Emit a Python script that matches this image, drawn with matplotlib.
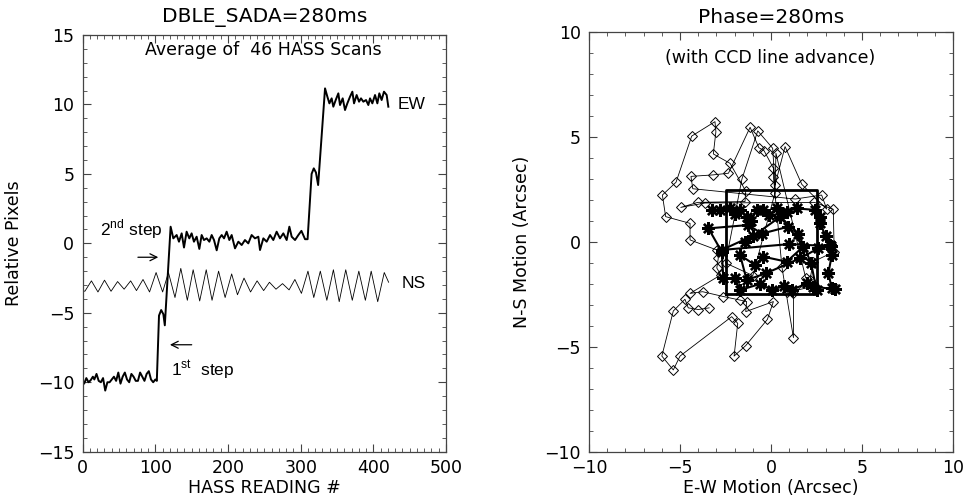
import matplotlib
matplotlib.use("Agg")
import matplotlib.pyplot as plt
from matplotlib.ticker import MultipleLocator

plt.rcParams["font.family"] = "DejaVu Sans"
plt.rcParams["mathtext.fontset"] = "custom"
plt.rcParams["mathtext.rm"] = "Liberation Sans"

# ---- left panel: averaged HASS scan ----
ew_x = [0, 2, 5, 8, 11, 14, 16, 19, 22, 25, 28, 31, 34, 37, 40, 43, 46, 49, 52, 55,
        58, 61, 64, 67, 70, 73, 76, 79, 82, 85, 88, 91, 94, 97, 100, 102,
        105, 108, 111, 113,
        121, 124.7, 129.3, 132.5, 136.2, 139.4, 143, 146.7, 149.9, 153.1, 156.8, 160.5,
        163.7, 166.9, 170.6, 174.3, 177.5, 180.7, 184.4, 188, 191.3, 194.5, 198.1, 201.8,
        205, 209.6, 214.2, 218.8, 223.3, 227.9, 232.5, 237.1, 241.7, 244, 248.6, 253.2,
        257.8, 262.3, 266.9, 271.5, 276.1, 280.7, 284.4, 287.6, 292.2, 296.8, 301, 306, 309.5,
        315, 318, 321, 324,
        333.5, 336.7, 339.5, 342.6, 344.9, 348.2, 351.8, 354.1, 357.8, 361, 364.2, 367.9,
        371.1, 373.4, 377, 380.3, 383, 386.2, 389.9, 393.1, 395.4, 398.6, 402.3, 405.5,
        408.2, 411.4, 414.6, 418.3, 420.6]
ew_y = [-9.9, -10.1, -9.7, -10.0, -9.85, -9.6, -9.8, -9.4, -9.9, -10.0, -9.7, -10.6, -10.0,
        -10.0, -9.8, -9.6, -9.9, -9.3, -10.1, -9.6, -9.3, -9.8, -10.0, -9.4, -9.6, -9.9,
        -9.9, -9.3, -9.6, -9.9, -9.4, -9.2, -9.8, -10.0, -9.8, -9.9,
        -5.2, -4.8, -5.1, -5.9,
        1.2, 0.36, 0.6, 0.12, 0.72, -0.3, 0.84, 0.36, 0.72, 0.12, 0.48, -0.4,
        0.6, 0.24, 0.36, 0.12, 0.6, 0.24, -0.5, 0.36, 0.6, 0.36, 0.84, 0.24,
        0.6, -0.36, 0.12, -0.12, 0.24, 0.0, 0.6, 0.36, 0.48, -0.48, 0.36, 0.12,
        0.6, 0.24, 0.84, 0.36, 0.72, 0.24, 1.2, 0.48, 0.24, 0.6, 0.9, 0.3, 0.3,
        5.0, 5.4, 5.1, 4.2,
        11.16, 10.56, 10.08, 10.44, 9.84, 10.32, 10.8, 9.96, 10.44, 9.6, 10.08, 10.56,
        10.92, 10.08, 10.68, 10.2, 10.44, 10.2, 10.32, 9.96, 10.44, 10.08, 10.68, 10.08,
        10.8, 10.32, 10.92, 10.68, 9.84]

ns_x = [0, 3, 12, 21, 30, 39, 48, 57, 66, 74, 83, 92, 101, 110, 118, 127, 135, 144, 152,
        161, 170, 178, 187, 196, 205, 213, 222, 231, 240, 249, 257, 266, 275, 284, 292,
        301, 310, 318, 327, 336, 345, 353, 362, 371, 380, 389, 397, 406, 415, 421]
ns_y = [-3.4, -3.45, -2.7, -3.5, -2.65, -3.45, -2.75, -3.3, -2.7, -3.4, -2.6, -3.5, -2.1,
        -3.5, -2.1, -3.9, -1.8, -4.1, -1.9, -4.15, -1.9, -4.1, -2.0, -3.9, -2.2, -3.7,
        -2.5, -3.5, -2.7, -3.4, -2.8, -3.3, -2.9, -3.35, -2.6, -3.6, -2.0, -3.9, -2.0,
        -4.1, -1.9, -4.2, -1.9, -4.1, -2.0, -4.1, -2.0, -4.2, -2.1, -2.8]

# ---- right panel: pointing motion ----
dia_x = [-3.40, -4.00, -4.55, -4.73, -5.37, -6.00, -5.37, -5.00, -2.16, -1.83, -2.03, -1.39,
         -0.20, 0.13, -1.39, -1.34, -1.70, -2.62, -3.76, -4.45, -2.76, -2.98, -2.90, -2.98,
         -4.45, -4.45, -5.79, -5.97, -5.22, -4.36, -3.08, -3.03, -3.17, -2.25, -1.39, -1.43,
         -4.03, -4.96, -3.63, 2.38, 3.42, 3.47, 2.32, 2.14, 1.23, 1.23, 0.60, 0.13, 0.13,
         -0.38, -0.67, -1.15, -2.34, -3.19, -4.40, -4.30, 1.33, 2.78, 3.06, 1.69, 0.77, 0.22,
         0.09, -0.73, -1.60, -2.50, -1.00, 0.22, 0.27, 1.90, 2.40, 0.90]
dia_y = [-3.14, -3.22, -3.14, -2.73, -3.29, -5.44, -6.10, -5.44, -3.56, -3.88, -5.44, -4.94,
         -3.69, -2.84, -3.32, -2.84, -2.77, -2.60, -2.37, -2.45, -1.57, -1.24, -0.78, -0.38,
         0.10, 0.89, 1.21, 2.24, 2.85, 5.05, 5.74, 5.26, 4.20, 3.75, 2.43, 1.93,
         1.89, 1.65, 1.86, 1.89, 1.56, -0.46, -0.94, -1.80, -2.45, -4.56, -1.20, 3.12, 3.52,
         4.35, 4.50, 5.47, 3.28, 3.20, 3.13, 2.54, 2.05, 2.24, 1.57, 2.75, 4.55, 2.72,
         4.47, 5.30, 3.00, -1.00, -1.60, 2.35, 4.23, -1.70, -2.10, -2.40]

ast_x = [-3.26, -2.80, -2.25, -2.00, -1.70, -1.34, -1.10, -0.79, -0.42, -0.10, 0.31, 0.60,
         0.86, 1.41, 2.42, 2.69, 2.69, 3.00, 3.24, 3.34, 3.15, 3.34, 3.50, 2.32, 1.96, 1.14,
         0.70, 0.04, -0.60, -1.70, -1.98, -2.62, -2.71, -3.44, -1.25, -0.50, 0.95, 1.77,
         0.86, -0.42, -0.88, -1.70, -1.34, -0.30, 1.59, 2.60, 3.30, 1.00, -2.71, -1.00,
         -1.45, 0.50, 1.50, 2.20, 2.50]
ast_y = [1.53, 1.53, 1.60, 1.35, 1.53, 1.21, 1.00, 1.53, 1.53, 1.30, 1.60, 1.40,
         1.45, 1.60, 1.53, 1.21, 0.89, 0.30, -0.14, -0.62, -1.49, -2.21, -2.25, -2.13, -1.97,
         -2.29, -2.10, -2.29, -2.00, -2.29, -1.73, -1.73, -0.46, 0.65, 0.81, 0.40, 0.73, -0.22,
         -0.94, -0.70, -1.10, -0.62, -1.81, -1.50, -0.78, -0.30, -0.20, -0.10, -0.38, 0.30,
         0.00, 1.20, 0.40, -1.00, -2.30]

box_x = [-2.5, 2.5, 2.5, -2.5, -2.5]
box_y = [-2.5, -2.5, 2.5, 2.5, -2.5]

fig = plt.figure(figsize=(9.65, 5.01), dpi=100)
ax1 = fig.add_axes([0.0857, 0.0984, 0.3765, 0.8317])
ax2 = fig.add_axes([0.6104, 0.0984, 0.3772, 0.8371])

frame_col = "#444444"


def style_axes(ax, xmin_step, ymin_step):
    ax.xaxis.set_minor_locator(MultipleLocator(xmin_step))
    ax.yaxis.set_minor_locator(MultipleLocator(ymin_step))
    ax.tick_params(which="both", direction="in", top=True, right=True,
                   color=frame_col, labelsize=12.5)
    ax.tick_params(which="major", length=6, width=0.8)
    ax.tick_params(which="minor", length=3, width=0.6)
    ax.tick_params(axis="x", pad=5)
    ax.tick_params(axis="y", pad=6)
    for s in ax.spines.values():
        s.set_color(frame_col)
        s.set_linewidth(0.9)


ax1.plot(ew_x, ew_y, color="black", lw=1.4)
ax1.plot(ns_x, ns_y, color="black", lw=0.6)
ax1.set_xlim(0, 500)
ax1.set_ylim(-15, 15)
ax1.set_xticks([0, 100, 200, 300, 400, 500])
ax1.set_yticks([-15, -10, -5, 0, 5, 10, 15])
style_axes(ax1, 10, 1)
ax1.set_xlabel("HASS READING #", fontsize=12.5)
ax1.set_ylabel("Relative Pixels", fontsize=12.5)
ax1.xaxis.set_label_coords(0.5, -0.066)
ax1.yaxis.set_label_coords(-0.165, 0.5)
ax1.text(0.5, 1.043, "DBLE_SADA=280ms", transform=ax1.transAxes,
         ha="center", va="center", fontsize=14.5)
ax1.text(0.496, 0.964, "Average of  46 HASS Scans", transform=ax1.transAxes,
         ha="center", va="center", fontsize=12.5)

sans = "Liberation Sans"
arrow = dict(arrowstyle="->,head_length=0.5,head_width=0.25", lw=0.9,
             color="black", shrinkA=0, shrinkB=0)
ax1.text(433, 10.0, "EW", family=sans, fontsize=12.5, va="center")
ax1.text(439, -2.9, "NS", family=sans, fontsize=12.5, va="center")
ax1.text(24, 0.6, r"2$^{\mathrm{nd}}$ step", family=sans, fontsize=12.5, va="baseline")
ax1.text(122, -9.6, r"1$^{\mathrm{st}}$  step", family=sans, fontsize=12.5, va="baseline")
ax1.annotate("", xy=(104, -1.0), xytext=(76, -1.0), arrowprops=arrow)
ax1.annotate("", xy=(120, -7.3), xytext=(150, -7.3), arrowprops=arrow)

ax2.plot(dia_x, dia_y, color="black", lw=0.6, marker="D", markersize=5.3,
         markerfacecolor="none", markeredgecolor="black", markeredgewidth=0.7)
ax2.plot(ast_x, ast_y, color="black", lw=1.5, marker=(8, 2, 0), markersize=9,
         markeredgewidth=1.7)
ax2.plot(box_x, box_y, color="black", lw=2.0)
ax2.set_xlim(-10, 10)
ax2.set_ylim(-10, 10)
ax2.set_xticks([-10, -5, 0, 5, 10])
ax2.set_yticks([-10, -5, 0, 5, 10])
style_axes(ax2, 1, 1)
ax2.set_xlabel("E-W Motion (Arcsec)", fontsize=12.5)
ax2.set_ylabel("N-S Motion (Arcsec)", fontsize=12.5)
ax2.xaxis.set_label_coords(0.5, -0.064)
ax2.yaxis.set_label_coords(-0.16, 0.5)
ax2.text(0.5, 1.036, "Phase=280ms", transform=ax2.transAxes,
         ha="center", va="center", fontsize=14.5)
ax2.text(0.497, 0.938, "(with CCD line advance)", transform=ax2.transAxes,
         ha="center", va="center", fontsize=12.5)

fig.savefig("out.png", dpi=100)
